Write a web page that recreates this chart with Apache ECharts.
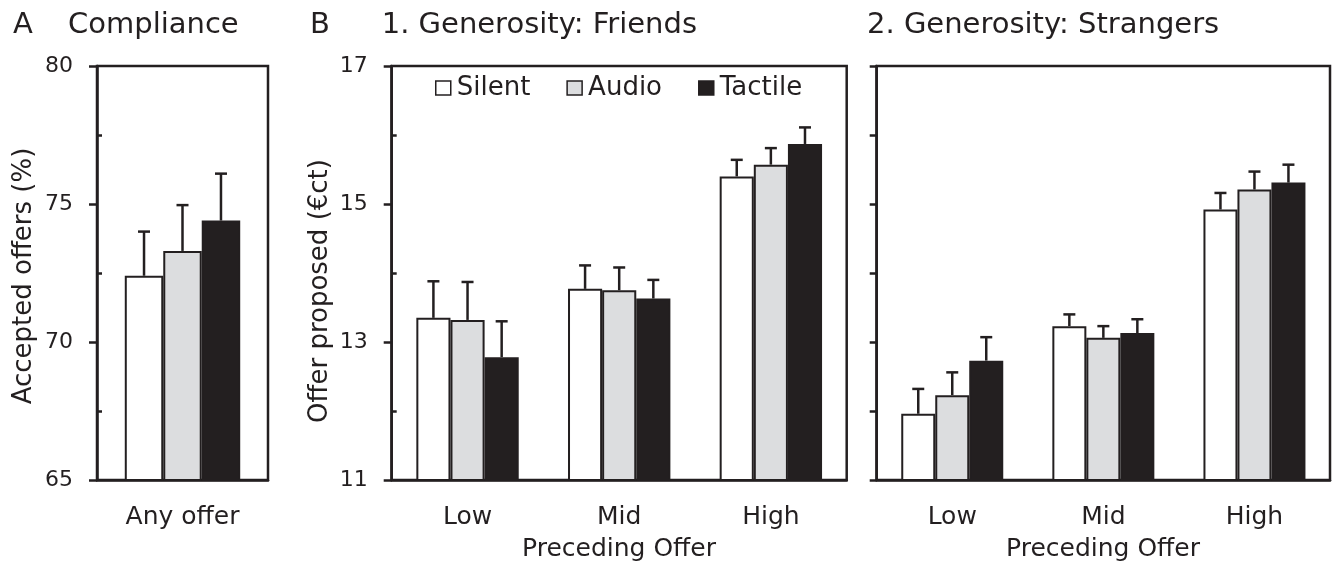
<!DOCTYPE html>
<html><head><meta charset="utf-8">
<script src="https://cdn.jsdelivr.net/npm/echarts@6/dist/echarts.min.js"></script>
<style>html,body{margin:0;padding:0;background:#fff}#c{width:1332px;height:563px}</style>
</head><body><div id="c"></div>
<script>
// ---- data ----
const conditions = ['Silent', 'Audio', 'Tactile'];
const complianceCategories = ['Any offer'];
const complianceSilent = [72.4];
const complianceAudio = [73.3];
const complianceTactile = [74.4];
const complianceSilentErr = [1.6];
const complianceAudioErr = [1.66];
const complianceTactileErr = [1.7];

const offerCategories = ['Low', 'Mid', 'High'];
const friendsSilent = [13.35, 13.77, 15.40];
const friendsAudio = [13.32, 13.75, 15.57];
const friendsTactile = [12.78, 13.63, 15.87];
const friendsSilentErr = [0.53, 0.34, 0.24];
const friendsAudioErr = [0.55, 0.33, 0.24];
const friendsTactileErr = [0.52, 0.27, 0.24];

const strangersSilent = [11.96, 13.23, 14.92];
const strangersAudio = [12.23, 13.06, 15.21];
const strangersTactile = [12.73, 13.13, 15.31];
const strangersSilentErr = [0.36, 0.17, 0.24];
const strangersAudioErr = [0.33, 0.17, 0.26];
const strangersTactileErr = [0.34, 0.20, 0.26];

const complianceTicks = [65, 70, 75, 80];
const complianceMinorTicks = [67.5, 72.5, 77.5];
const offerTicks = [11, 13, 15, 17];
const offerMinorTicks = [12, 14, 16];

// ---- style ----
const DARK = '#231f20';
const FILLS = ['#ffffff', '#dcdddf', '#231f20'];
const FONT = 'DejaVu Sans';
const BAR_FRAC = 0.225;

const grids = [
  {left: 97, top: 66, width: 171, height: 414},
  {left: 391.7, top: 66, width: 455, height: 414},
  {left: 876.7, top: 66, width: 453.3, height: 414}
].map(g => Object.assign({show: true, borderColor: DARK, borderWidth: 2.5, backgroundColor: 'transparent'}, g));

function xAxisFor(gi, cats) {
  return {
    type: 'category', gridIndex: gi, data: cats,
    axisLine: {lineStyle: {color: DARK, width: 2.5}},
    axisTick: {length: 8, lineStyle: {color: DARK, width: 2.5}},
    axisLabel: {fontSize: 25, fontFamily: FONT, color: DARK, margin: 25},
    splitLine: {show: false}
  };
}

function yAxisMain(gi, min, max, interval, tickVals, showLabels, tickLen) {
  const ax = {
    type: 'value', gridIndex: gi, min, max, interval, position: 'left',
    axisLine: {show: true, lineStyle: {color: DARK, width: 2.5}},
    axisTick: {show: true, length: tickLen, lineStyle: {color: DARK, width: 2.5}},
    axisLabel: {show: showLabels, fontSize: 22, fontFamily: FONT, color: DARK, margin: 24},
    splitLine: {show: false}
  };
  if (tickVals) {
    ax.axisTick.customValues = tickVals;
    ax.axisLabel.customValues = tickVals;
  }
  return ax;
}

function yAxisMinor(gi, min, max, interval, minorVals) {
  return {
    type: 'value', gridIndex: gi, min, max, interval, position: 'left', offset: 0,
    axisLine: {show: false},
    axisTick: {show: true, inside: true, length: 5, customValues: minorVals, lineStyle: {color: DARK, width: 2.5}},
    axisLabel: {show: false},
    splitLine: {show: false}
  };
}

const xAxes = [xAxisFor(0, complianceCategories), xAxisFor(1, offerCategories), xAxisFor(2, offerCategories)];
const yAxes = [
  yAxisMain(0, 65, 80, 5, complianceTicks, true, 8),
  yAxisMain(1, 11, 17, 1, offerTicks, true, 8),
  yAxisMain(2, 11, 17, 1, null, false, 7),
  yAxisMinor(0, 65, 80, 5, complianceMinorTicks),
  yAxisMinor(1, 11, 17, 1, offerMinorTicks)
];

function barSeries(ai, valuesByCond) {
  return valuesByCond.map((vals, s) => ({
    type: 'bar', name: conditions[s], xAxisIndex: ai, yAxisIndex: ai,
    data: vals, barWidth: (BAR_FRAC * 100) + '%', barGap: '0%',
    itemStyle: {color: FILLS[s], borderColor: DARK, borderWidth: 2},
    silent: true, animation: false, z: 2
  }));
}

function errorSeries(ai, valuesByCond, errsByCond) {
  const data = [];
  valuesByCond.forEach((vals, s) => vals.forEach((m, c) => data.push([c, m, m + errsByCond[s][c], s])));
  return {
    type: 'custom', xAxisIndex: ai, yAxisIndex: ai, data, z: 5, silent: true, animation: false,
    encode: {x: 0, y: [1, 2]},
    renderItem(params, api) {
      const c = api.value(0), s = api.value(3);
      const band = api.size([1, 0])[0];
      const p0 = api.coord([c, api.value(1)]);
      const p1 = api.coord([c, api.value(2)]);
      const x = p0[0] + (s - 1) * band * BAR_FRAC;
      return {type: 'group', children: [
        {type: 'line', shape: {x1: x, y1: p0[1], x2: x, y2: p1[1]}, style: {stroke: DARK, lineWidth: 2.5}},
        {type: 'line', shape: {x1: x - 6, y1: p1[1], x2: x + 6, y2: p1[1]}, style: {stroke: DARK, lineWidth: 2.5}}
      ]};
    }
  };
}

const compVals = [complianceSilent, complianceAudio, complianceTactile];
const compErrs = [complianceSilentErr, complianceAudioErr, complianceTactileErr];
const friVals = [friendsSilent, friendsAudio, friendsTactile];
const friErrs = [friendsSilentErr, friendsAudioErr, friendsTactileErr];
const strVals = [strangersSilent, strangersAudio, strangersTactile];
const strErrs = [strangersSilentErr, strangersAudioErr, strangersTactileErr];

const series = [].concat(
  barSeries(0, compVals), [errorSeries(0, compVals, compErrs)],
  barSeries(1, friVals), [errorSeries(1, friVals, friErrs)],
  barSeries(2, strVals), [errorSeries(2, strVals, strErrs)]
);

function txt(text, x, y, size) {
  return {
    type: 'text', x, y, silent: true,
    style: {text, fill: DARK, fontSize: size, fontFamily: FONT, align: 'left', verticalAlign: 'middle',
            textAlign: 'left', textVerticalAlign: 'middle'}
  };
}
function ctxt(text, x, y, size, rot) {
  return {
    type: 'text', x, y, rotation: rot || 0, silent: true,
    style: {text, fill: DARK, fontSize: size, fontFamily: FONT, align: 'center', verticalAlign: 'middle',
            textAlign: 'center', textVerticalAlign: 'middle'}
  };
}

const graphics = [
  txt('A', 13, 25, 29),
  txt('Compliance', 68, 25, 29),
  txt('B', 310, 25, 29),
  txt('1. Generosity: Friends', 381.7, 25, 29),
  txt('2. Generosity: Strangers', 867, 25, 29),
  ctxt('Accepted offers (%)', 24, 276, 26, Math.PI / 2),
  ctxt('Offer proposed (€ct)', 320, 291, 26, Math.PI / 2),
  ctxt('Preceding Offer', 619, 549, 25),
  ctxt('Preceding Offer', 1103, 549, 25)
];

const chart = echarts.init(document.getElementById('c'), null, {renderer: 'canvas'});
chart.setOption({
  animation: false,
  backgroundColor: '#ffffff',
  grid: grids,
  xAxis: xAxes,
  yAxis: yAxes,
  legend: {
    data: conditions, left: 430, top: 70, orient: 'horizontal',
    icon: 'rect', itemWidth: 15, itemHeight: 14, itemGap: 36, selectedMode: false,
    itemStyle: {borderColor: DARK, borderWidth: 1.5},
    textStyle: {fontSize: 26, fontFamily: FONT, color: DARK, padding: [0, 0, 0, 1]}
  },
  graphic: graphics,
  series
});
</script>
</body></html>
